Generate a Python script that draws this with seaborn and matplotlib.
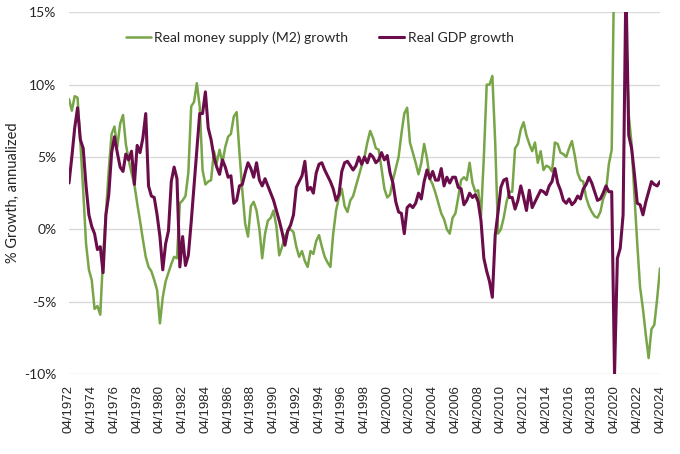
import pandas as pd
import matplotlib
matplotlib.use('Agg')
import matplotlib.pyplot as plt
import seaborn as sns
from matplotlib.ticker import FuncFormatter

# valores trimestrais (abr/1972 .. abr/2024)
# cada linha: abr, jul, out do ano + jan do ano seguinte
m2_growth = [
    9.0, 8.2, 9.2, 9.1,       # 1972
    6.0, 2.7, -1.0, -2.8,
    -3.5, -5.5, -5.3, -5.9,
    -1.9, 1.1, 4.1, 6.6,
    7.1, 5.7, 7.3, 7.9,
    5.9, 4.8, 3.9, 3.1,
    1.8, 0.6, -0.7, -1.9,
    -2.6, -2.9, -3.5, -4.2,
    -6.5, -4.7, -3.6, -3.0,   # 1980
    -2.4, -1.9, -2.0, 1.8,
    2.0, 2.3, 3.9, 8.5,
    8.8, 10.1, 8.5, 4.1,
    3.1, 3.3, 3.4, 5.4,
    4.6, 5.5, 4.6, 5.7,
    6.4, 6.6, 7.8, 8.1,
    5.3, 2.7, 0.4, -0.5,
    1.6, 1.9, 1.3, 0.0,
    -2.0, -0.3, 0.6, 0.8,
    1.3, 0.2, -1.8, -1.2,     # 1990
    -0.5, -0.1, 0.0, -0.2,
    -1.2, -1.9, -1.5, -2.2,
    -2.6, -1.5, -1.7, -0.8,
    -0.4, -1.2, -1.9, -2.3,
    -2.6, -0.3, 1.3, 2.2,
    2.8, 1.6, 1.2, 2.0,
    2.3, 3.0, 3.7, 4.4,
    5.0, 6.0, 6.8, 6.3,
    5.6, 5.5, 4.2, 2.8,
    2.2, 2.4, 3.4, 4.2,       # 2000
    5.0, 6.6, 8.0, 8.4,
    6.0, 5.3, 4.6, 3.8,
    4.6, 5.9, 4.9, 3.5,
    3.1, 2.5, 1.8, 1.1,
    0.7, 0.0, -0.3, 0.8,
    1.1, 2.2, 3.4, 3.6,
    3.4, 4.6, 3.2, 2.6,
    2.7, 0.9, 5.0, 10.0,
    10.0, 10.6, 6.0, -0.3,
    0.0, 0.8, 1.9, 2.6,       # 2010
    2.6, 5.6, 5.9, 6.9,
    7.4, 6.5, 5.9, 5.4,
    6.0, 4.6, 5.4, 4.1,
    4.4, 4.3, 4.0, 6.0,
    5.9, 5.3, 5.2, 5.0,
    5.6, 6.1, 5.1, 3.9,
    3.4, 3.3, 2.2, 1.6,
    1.2, 0.9, 0.8, 1.2,
    2.1, 2.6, 4.5, 5.5,
    20.0, 24.0, 24.0, 25.0,   # 2020
    14.0, 7.9, 5.9, 2.3,
    -1.0, -4.0, -5.5, -7.3,
    -8.9, -6.9, -6.6, -4.8,
    -2.7,
]

gdp_growth = [
    3.2, 5.0, 7.0, 8.4,       # 1972
    6.2, 5.6, 3.0, 1.0,
    0.2, -0.3, -1.4, -1.2,
    -3.0, 1.0, 2.4, 5.3,
    6.4, 5.3, 4.3, 4.0,
    5.2, 4.8, 5.4, 3.1,
    5.8, 5.3, 6.3, 8.0,
    3.0, 2.3, 2.2, 1.0,
    -0.5, -2.8, -1.0, -0.1,   # 1980
    3.3, 4.3, 3.5, -2.6,
    -0.5, -2.5, -1.8, 0.5,
    3.0, 5.5, 8.0, 8.0,
    9.5, 7.0, 6.2, 5.0,
    4.3, 3.8, 4.8, 4.3,
    3.6, 3.7, 1.8, 2.0,
    3.0, 3.1, 3.9, 4.6,
    4.2, 3.6, 4.6, 3.4,
    3.0, 3.5, 3.0, 2.5,
    2.0, 1.3, 0.6, -0.2,      # 1990
    -1.1, -0.1, 0.3, 1.0,
    2.9, 3.3, 3.7, 4.7,
    2.7, 2.9, 2.5, 3.9,
    4.5, 4.6, 4.1, 3.7,
    3.3, 2.8, 2.0, 2.4,
    4.0, 4.6, 4.7, 4.4,
    4.1, 4.4, 5.0, 4.5,
    5.0, 4.6, 5.2, 5.0,
    4.6, 4.8, 5.3, 4.8,
    5.1, 3.9, 3.2, 1.9,       # 2000
    1.2, 1.1, -0.3, 1.5,
    1.7, 1.5, 1.8, 2.5,
    2.1, 3.3, 4.1, 3.5,
    4.0, 3.4, 3.4, 4.2,
    3.0, 3.6, 3.2, 3.6,
    3.6, 2.9, 2.8, 1.7,
    2.0, 2.5, 2.2, 2.4,
    1.9, 0.6, -2.0, -2.9,
    -3.6, -4.7, -0.4, 1.2,
    2.9, 3.4, 3.5, 2.2,       # 2010
    2.2, 1.4, 2.0, 3.0,
    2.2, 1.3, 2.7, 1.5,
    1.9, 2.3, 2.7, 2.6,
    2.4, 3.0, 3.3, 4.2,
    3.2, 2.7, 2.0, 1.8,
    2.1, 1.7, 1.9, 2.3,
    2.1, 2.8, 3.1, 3.6,
    3.2, 2.6, 2.0, 2.1,
    2.5, 3.0, 2.6, 2.6,
    -10.0, -2.0, -1.3, 1.0,   # 2020
    17.0, 6.5, 5.6, 3.8,
    1.8, 1.7, 1.0, 1.9,
    2.6, 3.3, 3.1, 3.0,
    3.3,
]

y_ticks = [-10, -5, 0, 5, 10, 15]
tick_anos = list(range(1972, 2025, 2))
tick_labels = [f'04/{a}' for a in tick_anos]

verde = '#78a548'
roxo = '#6b0d4a'

datas = pd.date_range('1972-04-01', '2024-04-01', freq='3MS')
df = pd.DataFrame({'data': datas, 'M2': m2_growth, 'GDP': gdp_growth})

sns.set_theme(style='white')
plt.rcParams['font.family'] = ['Lato', 'DejaVu Sans']

fig = plt.figure(figsize=(6.8, 4.54), dpi=100)
ax = fig.add_axes([69 / 680, 1 - 374 / 454, 591 / 680, (374 - 12.3) / 454])

sns.lineplot(data=df, x='data', y='M2', color=verde, linewidth=1.8,
             label='Real money supply (M2) growth', ax=ax)
sns.lineplot(data=df, x='data', y='GDP', color=roxo, linewidth=2.2,
             label='Real GDP growth', ax=ax)

ax.set_xlim(datas[0], datas[-1])
ax.set_ylim(-10, 15)
ax.set_yticks(y_ticks)
ax.yaxis.set_major_formatter(FuncFormatter(lambda v, p: f'{v:.0f}%'))
ax.set_xticks(pd.to_datetime([f'{a}-04-01' for a in tick_anos]))
ax.set_xticklabels(tick_labels, rotation=90, family='Liberation Sans', fontsize=9.5)
ax.tick_params(axis='y', length=0, pad=9, labelsize=10, colors='#262626')
ax.tick_params(axis='x', length=0, pad=8, colors='#262626')

ax.grid(axis='y', color='#d9d9d9', linewidth=1.0)
ax.grid(axis='x', visible=False)
sns.despine(ax=ax, left=True, bottom=True)

ax.set_xlabel('')
ax.set_ylabel('% Growth, annualized', fontsize=10.5, color='#262626')
ax.yaxis.set_label_coords(-0.083, 0.5)

ax.legend(loc='upper left', bbox_to_anchor=(126 / 680, 1 - 31 / 454),
          bbox_transform=fig.transFigure, ncol=2, frameon=False, fontsize=10,
          handlelength=1.8, handletextpad=0.25, columnspacing=2.2,
          borderpad=0, borderaxespad=0, labelcolor='#262626')

plt.savefig('out.png', dpi=100)
plt.close()
